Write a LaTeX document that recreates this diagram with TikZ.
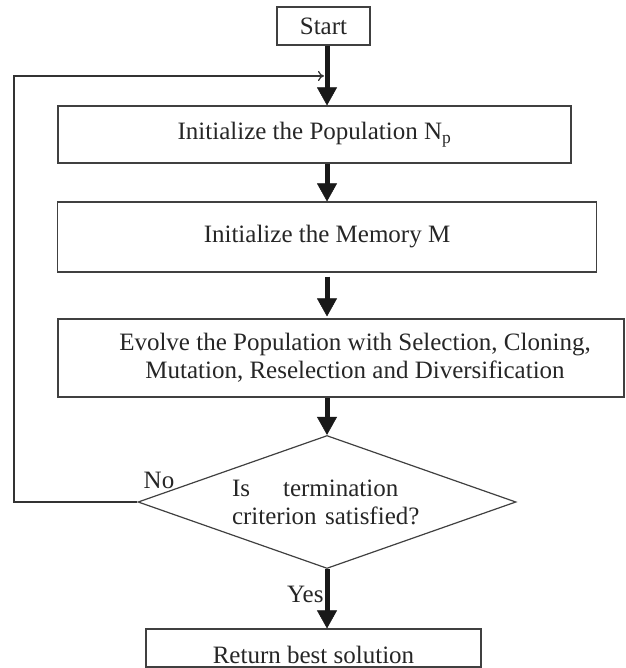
\documentclass[tikz,border=0pt]{standalone}
\usepackage{fontspec}
\setmainfont{Liberation Serif}
\usetikzlibrary{shapes,arrows.meta,positioning}

\begin{document}
\begin{tikzpicture}[x=1pt, y=-1pt, every node/.style={font=\fontsize{25}{28}\selectfont, text=black!85},
	box/.style={rectangle, draw=black!75, line width=1.2pt, inner sep=0pt},
	flow/.style={-{Triangle[width=20pt,length=18pt,line width=0.5pt]}, line width=5pt, black!90},
	back/.style={-{To[length=6pt,width=10pt]}, line width=1.2pt, black!80}]
	\useasboundingbox (0,0) rectangle (625,668);
	\node[box, minimum width=93, minimum height=38] (start) at (323.5,26) {Start};
	\node[box, minimum width=513, minimum height=57] (pop) at (314.5,134.5) {Initialize the Population N\textsubscript{p}};
	\node[box, minimum width=539, minimum height=70] (mem) at (327,237) {Initialize the Memory M};
	\node[box, minimum width=566, minimum height=78, align=center] (evolve) at (341,358) {\hspace*{28pt}Evolve the Population with Selection, Cloning,\\\hspace*{28pt}Mutation, Reselection and Diversification};
	\node[diamond, draw=black!75, line width=1.2pt, inner sep=0pt, aspect=2.84, minimum width=378, minimum height=133, text width=190pt, align=left] (check) at (327,502) {Is\hspace{33pt}termination\\criterion satisfied?};
	\node[box, minimum width=335, minimum height=38, text height=30pt, text depth=0pt] (ret) at (313.5,648) {Return best solution};
	\node (no) at (159,480) {No};
	\coordinate (loop) at (14,76);

	\draw[flow] (start.south -| check) -- (pop.north -| check);
	\draw[flow] (pop.south -| check) -- (mem.north -| check);
	\draw[flow, shorten <=4pt, shorten >=2pt] (mem.south -| check) -- (evolve.north -| check);
	\draw[flow] (evolve.south -| check) -- (check.north);
	\draw[flow] (check.south) -- node[left, pos=0.42, inner sep=1pt] (yes) {Yes} (ret.north -| check);
	\draw[back, shorten >=3pt] (check.west) -| (loop) -- (loop -| check);
\end{tikzpicture}
\end{document}
